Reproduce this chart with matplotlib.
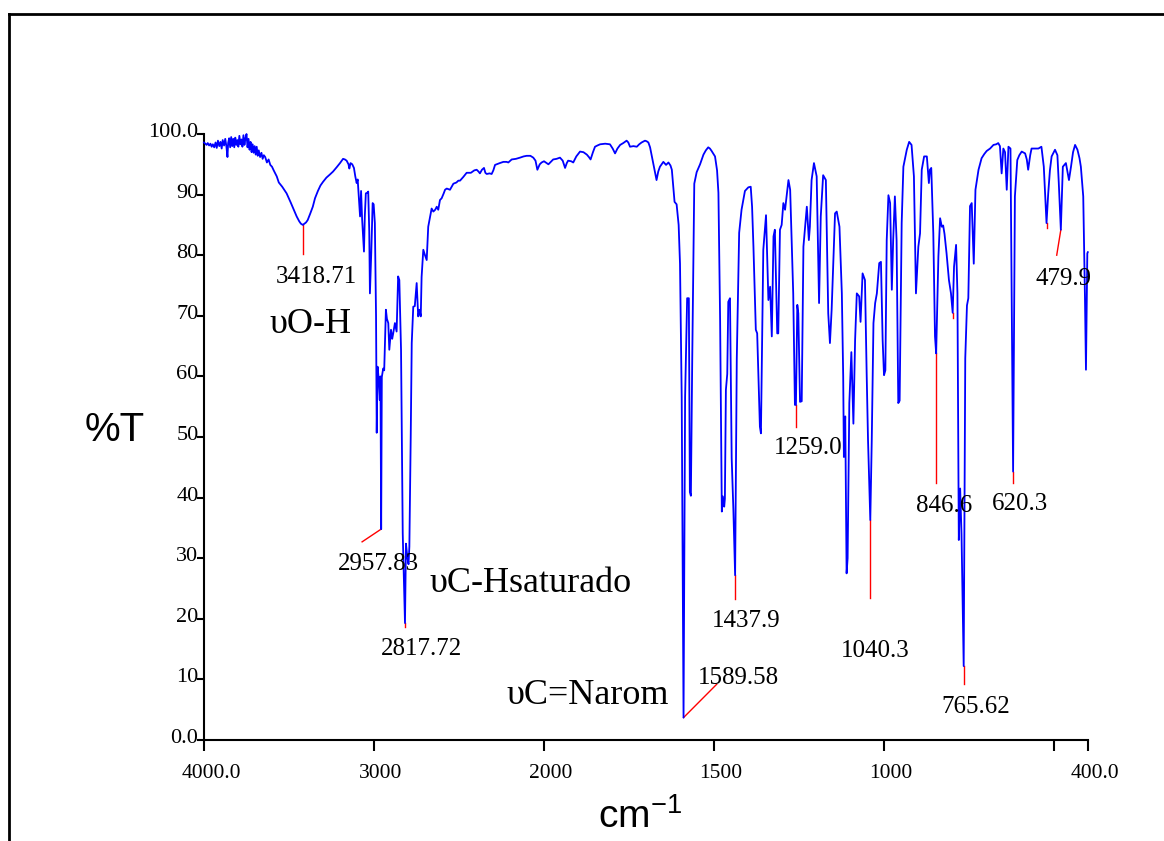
import numpy as np
import matplotlib
matplotlib.use("Agg")
import matplotlib.pyplot as plt
from matplotlib.lines import Line2D
from matplotlib.transforms import ScaledTranslation

# ======= Data =======
WAVENUMBER = [
    4000, 3992, 3985, 3978, 3970, 3962, 3955, 3948, 3940, 3932, 3925, 3918, 3910, 3903,
    3896, 3890, 3882, 3875, 3868, 3862, 3858, 3852, 3846, 3840, 3834, 3828, 3822, 3816,
    3810, 3804, 3798, 3792, 3786, 3780, 3774, 3768, 3762, 3756, 3750, 3744, 3738, 3732,
    3726, 3720, 3714, 3708, 3702, 3696, 3690, 3684, 3678, 3670, 3662, 3655, 3648, 3640,
    3630, 3620, 3610, 3600, 3590, 3572, 3560, 3540, 3514, 3490, 3470, 3455, 3440, 3430,
    3418.71, 3400, 3390, 3376, 3360, 3347, 3330, 3315, 3300, 3280, 3260, 3241, 3220, 3200,
    3182, 3171, 3161, 3150, 3145, 3138, 3128, 3118, 3110, 3102, 3096, 3090, 3082, 3076,
    3070, 3065, 3059, 3054, 3048, 3040, 3034, 3028, 3024, 3016, 3008, 3002, 2995, 2988,
    2984, 2979, 2972, 2966, 2962, 2957.83, 2954, 2946, 2940, 2930, 2924, 2916, 2910, 2900,
    2893, 2887, 2877, 2867, 2858, 2851, 2841, 2831, 2817.72, 2812, 2804, 2797, 2792, 2784,
    2778, 2769, 2760, 2749, 2740, 2732, 2725, 2720, 2710, 2700, 2690, 2681, 2671, 2661,
    2651, 2640, 2631, 2622, 2612, 2602, 2590, 2582, 2572, 2553, 2533, 2515, 2504, 2494,
    2475, 2455, 2430, 2410, 2396, 2385, 2377, 2365, 2353, 2345, 2337, 2320, 2308, 2298,
    2288, 2260, 2239, 2220, 2210, 2190, 2165, 2141, 2120, 2102, 2080, 2063, 2050, 2039,
    2025, 2014, 2000, 1992, 1987, 1980, 1973, 1963, 1953, 1945, 1938, 1933, 1929, 1920,
    1914, 1905, 1894, 1884, 1874, 1868, 1863, 1856, 1850, 1843, 1835, 1820, 1806, 1798,
    1791, 1784, 1776, 1767, 1757, 1752, 1747, 1737, 1727, 1720, 1713, 1703, 1698, 1693,
    1688, 1683, 1676, 1669, 1664, 1659, 1649, 1641, 1634, 1628, 1624, 1620, 1616, 1610,
    1604, 1600, 1595, 1589.58, 1585, 1579, 1574, 1571, 1568, 1564, 1558, 1551, 1541, 1531,
    1524, 1517, 1512, 1507, 1497, 1491, 1487, 1482, 1477, 1474, 1470, 1468, 1465, 1461,
    1458, 1453, 1448, 1443, 1437.9, 1433, 1426, 1419, 1409, 1399, 1392, 1388, 1384, 1377,
    1373, 1365, 1362, 1355, 1347, 1340, 1335, 1330, 1325, 1321, 1314, 1311, 1306, 1301,
    1296, 1291, 1281, 1276, 1267, 1262, 1259.0, 1255, 1252, 1247, 1242, 1237, 1227, 1221,
    1218, 1213, 1206, 1198, 1191, 1186, 1179, 1171, 1164, 1159, 1154, 1144, 1139, 1131,
    1124, 1120, 1118, 1114, 1110, 1107, 1102, 1096, 1090, 1085, 1080, 1073, 1069, 1063,
    1056, 1051, 1047, 1040.3, 1036, 1031, 1026, 1021, 1014, 1009, 1004, 1000, 996, 992,
    987, 982, 977, 973, 968, 963, 958, 954, 948, 943, 933, 926, 919, 912,
    906, 899, 894, 889, 882, 874, 868, 865, 861, 855, 850, 846.6, 840, 835,
    830, 826, 822, 816, 809, 803, 798, 794, 788, 784, 780, 776, 772, 765.62,
    761, 756, 752, 747, 742, 736, 731, 722, 713, 705, 698, 688, 678, 670,
    664, 659, 654, 649, 644, 639, 634, 628, 620.3, 615, 608, 602, 595, 585,
    580, 576, 570, 566, 556, 546, 537, 530, 522, 517, 512, 507, 497, 490,
    486, 479.9, 474, 465, 456, 450, 444, 438, 431, 425, 421, 414, 409, 406,
    402, 400.5,
]
TRANSMITTANCE = [
    98.6, 98.4, 98.2, 98.5, 98.1, 98.4, 97.9, 98.3, 97.8, 98.6, 97.7, 98.9, 98.0, 98.7,
    97.6, 99.0, 98.1, 99.2, 97.9, 96.2, 98.5, 99.3, 97.8, 99.5, 98.0, 99.2, 97.8, 99.4,
    98.2, 99.0, 97.9, 99.7, 98.3, 99.1, 97.9, 99.8, 98.2, 99.3, 100.0, 97.8, 99.2, 97.4,
    98.7, 97.0, 98.3, 96.9, 98.0, 96.6, 97.9, 96.4, 97.3, 96.2, 96.9, 95.9, 96.5, 96.2,
    95.3, 95.8, 94.9, 94.6, 94.0, 93.0, 92.0, 91.3, 90.2, 88.7, 87.4, 86.4, 85.6, 85.2,
    85.0, 85.4, 85.8, 86.8, 88.0, 89.4, 90.6, 91.5, 92.1, 92.8, 93.3, 93.8, 94.5, 95.2,
    95.9, 95.8, 95.6, 95.0, 94.3, 95.2, 95.0, 94.4, 93.0, 91.9, 92.5, 90.0, 86.4, 90.6,
    86.0, 83.6, 80.6, 86.5, 90.2, 90.3, 90.5, 84.0, 73.7, 80.5, 88.6, 88.4, 85.3, 70.0,
    50.7, 61.6, 59.5, 56.1, 60.0, 34.8, 59.9, 61.3, 61.0, 71.0, 69.5, 68.8, 64.4, 67.7,
    66.2, 67.1, 68.8, 67.4, 76.5, 75.9, 64.4, 34.1, 19.3, 32.4, 30.2, 29.0, 31.9, 50.0,
    65.5, 71.5, 71.6, 75.4, 69.9, 71.0, 69.9, 76.4, 80.9, 80.0, 79.2, 84.7, 86.2, 87.7,
    87.2, 87.5, 88.0, 87.5, 89.1, 89.4, 90.2, 90.8, 91.0, 90.8, 91.8, 92.0, 92.3, 92.3,
    92.9, 93.6, 93.6, 94.0, 94.1, 93.8, 93.5, 94.1, 94.4, 93.6, 93.4, 93.5, 93.4, 94.0,
    94.9, 95.2, 95.4, 95.4, 95.3, 95.8, 95.9, 96.1, 96.3, 96.4, 96.4, 96.1, 95.6, 94.1,
    95.0, 95.3, 95.5, 95.2, 95.0, 95.4, 95.8, 95.9, 96.1, 95.6, 94.4, 95.2, 95.6, 95.5,
    95.3, 96.3, 97.1, 97.0, 96.6, 96.2, 95.8, 97.0, 97.9, 98.1, 98.3, 98.4, 98.3, 97.6,
    96.8, 97.6, 98.2, 98.5, 98.9, 98.6, 97.9, 98.0, 97.9, 98.3, 98.6, 98.9, 98.8, 98.6,
    97.8, 96.4, 94.5, 92.4, 93.8, 94.6, 95.4, 94.9, 95.3, 94.8, 94.1, 91.5, 88.8, 88.4,
    85.0, 78.6, 56.6, 3.7, 56.6, 72.9, 72.9, 40.9, 40.3, 62.9, 91.8, 93.7, 95.0, 96.6,
    97.3, 97.8, 97.6, 97.2, 96.3, 94.0, 90.3, 69.2, 37.7, 40.2, 38.5, 39.8, 57.8, 60.4,
    72.3, 72.9, 46.5, 38.0, 27.2, 62.9, 83.7, 87.5, 90.6, 91.2, 91.3, 88.0, 81.4, 67.7,
    67.1, 51.7, 50.6, 80.9, 86.6, 72.6, 74.8, 66.6, 83.1, 84.2, 67.1, 67.1, 84.2, 85.0,
    88.6, 87.5, 92.4, 90.8, 73.7, 55.3, 55.3, 71.8, 70.4, 55.8, 55.9, 81.4, 88.0, 82.5,
    84.7, 92.4, 95.2, 93.0, 72.1, 86.4, 93.2, 92.4, 70.4, 65.5, 71.0, 86.9, 87.2, 84.7,
    73.7, 60.0, 46.7, 53.4, 27.5, 30.0, 55.6, 64.0, 52.2, 66.0, 73.7, 73.2, 69.0, 77.0,
    75.9, 60.5, 49.5, 36.3, 49.5, 68.8, 72.1, 73.7, 78.7, 78.9, 66.0, 60.2, 61.0, 82.5,
    89.9, 88.6, 74.3, 82.5, 89.7, 82.5, 55.6, 56.0, 85.3, 94.6, 97.4, 98.7, 98.2, 93.0,
    73.7, 81.4, 83.6, 94.1, 96.3, 96.3, 91.9, 94.1, 94.4, 83.6, 66.6, 63.8, 79.8, 86.1,
    84.7, 84.9, 83.5, 80.3, 75.9, 73.7, 70.5, 78.1, 81.7, 73.7, 33.0, 41.5, 33.9, 12.2,
    63.0, 71.7, 72.9, 88.1, 88.6, 78.6, 90.8, 94.1, 96.0, 96.7, 97.2, 97.6, 98.2, 98.3,
    98.5, 98.0, 93.5, 97.6, 97.0, 90.8, 97.9, 97.6, 44.3, 89.7, 95.7, 96.5, 97.1, 96.8,
    95.8, 94.1, 96.5, 97.6, 97.6, 97.6, 97.9, 94.6, 85.3, 90.2, 94.0, 96.3, 97.4, 96.5,
    92.0, 84.2, 94.6, 95.2, 92.4, 94.6, 97.0, 98.2, 97.4, 96.0, 94.6, 89.7, 73.2, 61.1,
    80.3, 80.5,
]

PEAK_LABELS = ["3418.71", "2957.83", "2817.72", "1589.58", "1437.9", "1259.0",
               "1040.3", "846.6", "765.62", "620.3", "479.9"]
PEAK_WN = [3418.71, 2957.83, 2817.72, 1589.58, 1437.9, 1259.0,
           1040.3, 846.6, 765.62, 620.3, 479.9]
UNLABELED_PEAK_WN = [798, 522]

BAND_LABELS = ["\u03c5O-H", "\u03c5C-Hsaturado", "\u03c5C=Narom"]

X_TICKS = [4000, 3000, 2000, 1500, 1000, 500, 400]
X_TICK_LABELS = ["4000.0", "3000", "2000", "1500", "1000", "", "400.0"]
Y_TICKS = [0, 10, 20, 30, 40, 50, 60, 70, 80, 90, 100]
Y_TICK_LABELS = ["0.0", "10", "20", "30", "40", "50", "60", "70", "80", "90", "100.0"]

# ======= Layout =======
SERIF = "Liberation Serif"
SANS = "Liberation Sans"
BLUE = (0.0, 0.0, 1.0)
RED = (1.0, 0.0, 0.0)

# (line end wn, line end %T, text wn, text baseline %T) per labelled peak
PEAK_LAYOUT = [
    (3418.71, 80.2, 3337, 75.4),
    (3070, 32.7, 2976, 28.1),
    (2817.72, 18.6, 2723, 14.0),
    (1492, 9.2, 1428, 9.3),
    (1437.9, 23.2, 1406, 18.7),
    (1259.0, 51.7, 1224, 47.2),
    (1040.3, 23.4, 1026, 13.7),
    (846.6, 42.4, 823, 37.7),
    (765.62, 9.3, 729, 4.4),
    (620.3, 42.4, 600, 38.0),
    (492, 80.0, 471, 75.1),
]
# (text centre wn, text baseline %T)
BAND_LAYOUT = [(3376, 67.1), (2079, 24.5), (1870, 5.9)]


def fwd(x):
    x = np.asarray(x, dtype=float)
    return np.where(x > 2000, 2000 + (x - 2000) / 2.0, x)


def inv(u):
    u = np.asarray(u, dtype=float)
    return np.where(u > 2000, 2000 + (u - 2000) * 2.0, u)


def main():
    W, H = 1164, 841
    fig = plt.figure(figsize=(W / 100, H / 100), dpi=100)
    ax = fig.add_axes([204 / W, 101 / H, 884 / W, 606 / H])

    ax.set_xscale("function", functions=(fwd, inv))
    ax.set_xlim(4000, 400)
    ax.set_ylim(0, 100)

    wn = np.array(WAVENUMBER, dtype=float)
    tr = np.array(TRANSMITTANCE, dtype=float)
    ax.plot(wn, tr, color=BLUE, lw=1.3, clip_on=False, zorder=3)

    # peak markers and labels
    for lab, pk, (ex, ey, tx, ty) in zip(PEAK_LABELS, PEAK_WN, PEAK_LAYOUT):
        py = np.interp(pk, wn[::-1], tr[::-1])
        ax.plot([pk, ex], [py, ey], color=RED, lw=1.0, zorder=2)
        ax.text(tx, ty, lab, family=SERIF, fontsize=18, ha="center", va="baseline")
    for pk in UNLABELED_PEAK_WN:
        py = np.interp(pk, wn[::-1], tr[::-1])
        ax.plot([pk, pk], [py, py - 0.8], color=RED, lw=1.0, zorder=2)

    for lab, (tx, ty) in zip(BAND_LABELS, BAND_LAYOUT):
        ax.text(tx, ty, lab, family=SERIF, fontsize=26, ha="center", va="baseline")

    # axes styling
    for side in ("top", "right"):
        ax.spines[side].set_visible(False)
    for side in ("left", "bottom"):
        ax.spines[side].set_linewidth(1.5)

    ax.set_xticks(X_TICKS)
    ax.set_xticklabels(X_TICK_LABELS, family=SERIF, fontsize=15.5)
    ax.set_yticks(Y_TICKS)
    ax.set_yticklabels(Y_TICK_LABELS, family=SERIF, fontsize=16)
    ax.minorticks_off()
    ax.tick_params(axis="x", direction="out", length=8, width=1.5, pad=9)
    ax.tick_params(axis="y", direction="out", length=5, width=1.5, pad=-1)

    shift_x = ScaledTranslation(7 / 100, 0, fig.dpi_scale_trans)
    for t in ax.get_xticklabels():
        t.set_transform(t.get_transform() + shift_x)
    shift_y = ScaledTranslation(0, 4 / 100, fig.dpi_scale_trans)
    for t in ax.get_yticklabels():
        t.set_transform(t.get_transform() + shift_y)

    # axis titles
    fig.text(115 / W, 1 - 430 / H, "%T", family=SANS, fontsize=29,
             ha="center", va="center")
    plt.rcParams["mathtext.default"] = "regular"
    fig.text(640 / W, 1 - 828 / H, r"cm$^{-1}$", family=SANS, fontsize=28,
             ha="center", va="baseline")

    # outer frame (left and top edges visible)
    fx, fy = 8.5 / W, 1 - 13.5 / H
    fig.add_artist(Line2D([fx, fx], [0, fy], transform=fig.transFigure,
                          color="black", lw=2))
    fig.add_artist(Line2D([fx, 1], [fy, fy], transform=fig.transFigure,
                          color="black", lw=2))

    fig.savefig("out.png", dpi=100)


if __name__ == "__main__":
    main()
